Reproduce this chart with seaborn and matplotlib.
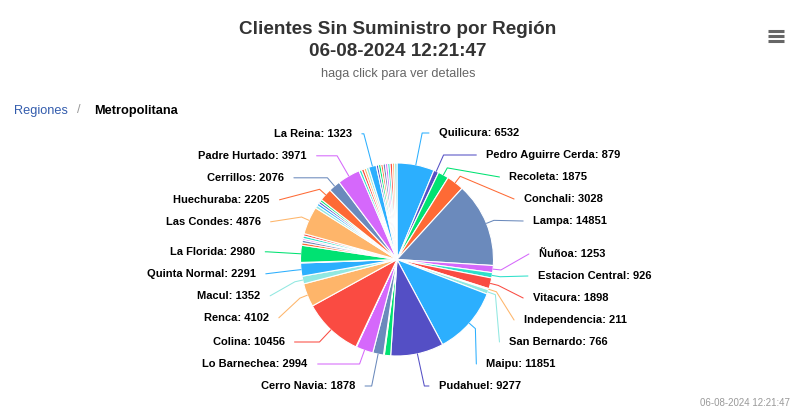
import numpy as np
import matplotlib
matplotlib.use("Agg")
import matplotlib.pyplot as plt
import seaborn as sns

# ---------------- data ----------------
title_lines = ["Clientes Sin Suministro por Región", "06-08-2024 12:21:47"]
subtitle = "haga click para ver detalles"
breadcrumb_root = "Regiones"
breadcrumb_current = "Metropolitana"
footer = "06-08-2024 12:21:47"

# slices in clockwise order starting at 12 o'clock ("" = label hidden in the reference)
comunas = [
    "Quilicura", "Pedro Aguirre Cerda", "Recoleta", "Conchali", "Lampa",
    "Ñuñoa", "Estacion Central", "Vitacura", "Independencia", "San Bernardo",
    "Maipu", "Pudahuel", "", "", "Cerro Navia",
    "Lo Barnechea", "", "Colina", "Renca", "Macul",
    "Quinta Normal", "", "La Florida", "", "",
    "", "", "", "Las Condes", "",
    "", "", "", "Huechuraba", "Cerrillos",
    "Padre Hurtado", "", "", "", "",
    "La Reina", "", "", "", "",
    "", "", "", "", "",
]
clientes = [
    6532, 879, 1875, 3028, 14851,
    1253, 926, 1898, 211, 766,
    11851, 9277, 1100, 150, 1878,
    2994, 100, 10456, 4102, 1352,
    2291, 100, 2980, 450, 450,
    300, 450, 400, 4876, 500,
    450, 400, 400, 2205, 2076,
    3971, 450, 450, 420, 450,
    1323, 400, 420, 380, 420,
    400, 400, 420, 380, 410,
]

base_colors = ["#2caffe", "#544fc5", "#00e272", "#fe6a35", "#6b8abc",
               "#d568fb", "#2ee0ca", "#fa4b42", "#feb56a", "#91e8e1"]

# ---------------- style ----------------
sns.set_theme(style="white")
plt.rcParams["font.family"] = ["Liberation Sans", "DejaVu Sans"]

W, H = 808, 420
fig = plt.figure(figsize=(W / 100, H / 100), dpi=100)
ax = fig.add_axes([0, 0, 1, 1])

palette = sns.color_palette(base_colors)
colors = [palette[i % len(palette)] for i in range(len(clientes))]

cx, cy, r = 397.0, 259.5, 96.5
R_lab = 130.0

# screen: y goes down (inverted axis), so startangle -90 + counterclock => clockwise from top
ax.pie(clientes, colors=colors, startangle=-90, counterclock=True,
       center=(cx, cy), radius=r,
       wedgeprops=dict(edgecolor="white", linewidth=0.8))
ax.set_xlim(0, W)
ax.set_ylim(H, 0)
ax.set_aspect("auto")
ax.axis("off")

# ---------------- data labels (Highcharts-like placement) ----------------
vals = np.array(clientes, dtype=float)
total = vals.sum()
cum = np.cumsum(vals)
mid = np.deg2rad((cum - vals / 2) / total * 360.0)  # clockwise from top

labels = []
for i, name in enumerate(comunas):
    if not name:
        continue
    th = mid[i]
    side = 1 if np.rad2deg(th) < 180 else -1
    ny = cy - R_lab * np.cos(th)
    labels.append(dict(i=i, th=th, side=side, y=ny))

ymin, ymax, step = 133.0, 386.0, 22.0
for side in (1, -1):
    grp = sorted([l for l in labels if l["side"] == side], key=lambda d: d["y"])
    prev = -1e9
    for l in grp:
        l["y"] = max(l["y"], prev + step, ymin)
        prev = l["y"]
    nxt = 1e9
    for l in reversed(grp):
        l["y"] = min(l["y"], nxt - step, ymax)
        nxt = l["y"]

for l in labels:
    i, th, side, y = l["i"], l["th"], l["side"], l["y"]
    dy = y - cy
    off = np.sqrt(max(R_lab ** 2 - dy ** 2, 0.0))
    line_x = cx + side * (off + 2)
    text_x = line_x + side * 10
    d = np.array([np.sin(th), -np.cos(th)])
    touch = np.array([cx, cy]) + r * d
    brk = np.array([cx, cy]) + (r + 8) * d
    pts = [(line_x, y)]
    if abs(d[1]) > 1e-6:
        t = (y - cy) / d[1]
        crook_x = cx + t * d[0]
        if t > 0:
            if side == 1 and brk[0] <= crook_x <= line_x:
                pts.append((crook_x, y))
            if side == -1 and line_x <= crook_x <= brk[0]:
                pts.append((crook_x, y))
    pts.append(tuple(brk))
    pts.append(tuple(touch))
    xs, ys = zip(*pts)
    ax.plot(xs, ys, color=colors[i], lw=0.75, solid_joinstyle="round")
    ax.text(text_x, y, f"{comunas[i]}: {clientes[i]}",
            ha="left" if side == 1 else "right", va="center",
            fontsize=8.0, fontweight="bold", color="#000000")

# ---------------- titles & decorations ----------------
ax.text(398, 30, title_lines[0], ha="center", va="center",
        fontsize=13.6, fontweight="bold", color="#333333")
ax.text(398, 52, title_lines[1], ha="center", va="center",
        fontsize=13.6, fontweight="bold", color="#333333")
ax.text(398, 74, subtitle, ha="center", va="center",
        fontsize=9.2, color="#666666")

ax.text(14, 111, breadcrumb_root, ha="left", va="center",
        fontsize=9.2, color="#335cad")
ax.text(79, 110, "/", ha="center", va="center", fontsize=9.2, color="#999999")
ax.text(94, 111, breadcrumb_current, ha="left", va="center",
        fontsize=9.2, fontweight="bold", color="#000000")

for yy in (31, 36, 41):
    ax.plot([768, 784], [yy, yy], color="#666666", lw=2.2, solid_capstyle="butt")

ax.text(790, 403, footer, ha="right", va="center", fontsize=7.0, color="#999999")

fig.savefig("out.png", dpi=100, facecolor="white")
